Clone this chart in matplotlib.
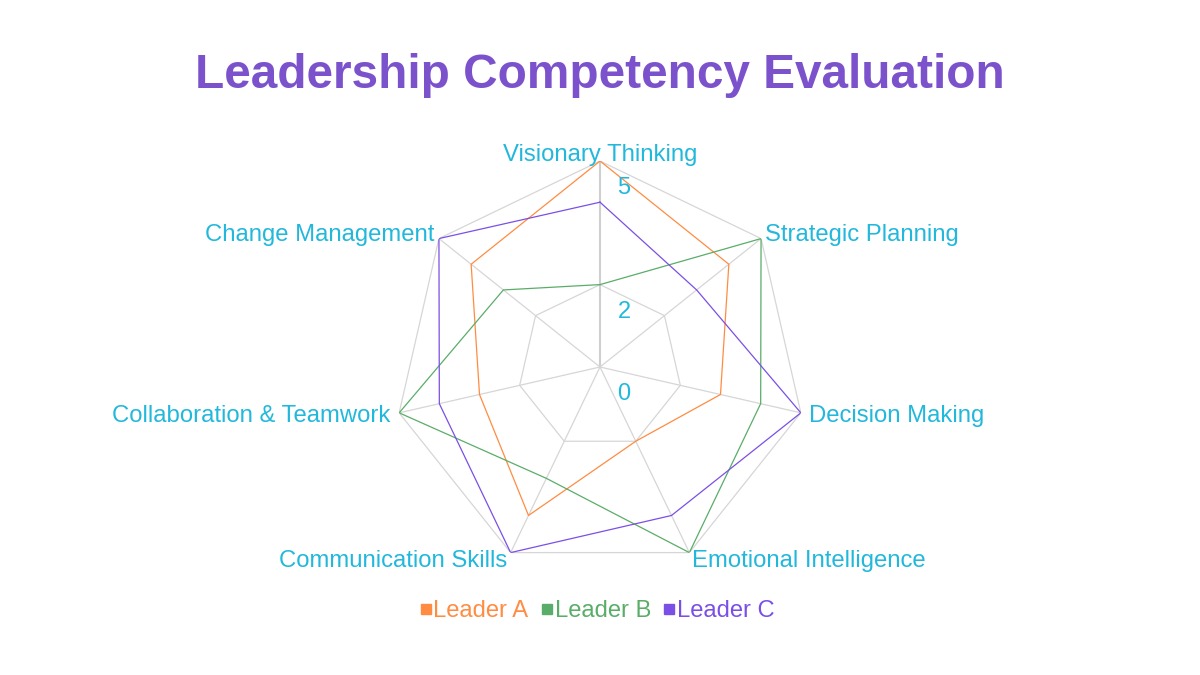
import numpy as np
import matplotlib
matplotlib.use("Agg")
import matplotlib.pyplot as plt
from matplotlib.lines import Line2D

plt.rcParams['font.family'] = ['Liberation Sans', 'DejaVu Sans']

categories = ["Visionary Thinking", "Strategic Planning", "Decision Making",
              "Emotional Intelligence", "Communication Skills",
              "Collaboration & Teamwork", "Change Management"]
leader_a = [5, 4, 3, 2, 4, 3, 4]
leader_b = [2, 5, 4, 5, 3, 5, 3]
leader_c = [4, 3, 5, 4, 5, 4, 5]
series_names = ["Leader A", "Leader B", "Leader C"]
series_values = [leader_a, leader_b, leader_c]
series_colors = ["#ff8c42", "#5aad69", "#7b4fe6"]
ring_values = [2, 5]
tick_values = [0, 2, 5]
r_max = 5

title_color = "#7b52cc"
label_color = "#22b8dc"
grid_color = "#d6d6d6"

W, H, DPI = 1200, 675, 100
fig = plt.figure(figsize=(W / DPI, H / DPI), dpi=DPI)
fig.patch.set_facecolor("white")

cx, cy, R = 600, 367, 206
ax = fig.add_axes([(cx - R) / W, (H - cy - R) / H, 2 * R / W, 2 * R / H],
                  projection="polar")
ax.set_theta_offset(np.pi / 2)
ax.set_theta_direction(-1)
ax.set_ylim(0, r_max)
ax.grid(False)
ax.spines["polar"].set_visible(False)
ax.set_xticks([])
ax.set_yticks([])
ax.patch.set_alpha(0)

n = len(categories)
angles = np.arange(n) * 2 * np.pi / n
closed = np.append(angles, angles[0])

# polygon grid rings
for rv in ring_values:
    ax.plot(closed, [rv] * (n + 1), color=grid_color, lw=0.9, zorder=1)
# spokes
for i, a in enumerate(angles):
    ax.plot([a, a], [0, r_max], color=grid_color if i else "#cfcfcf",
            lw=0.9 if i else 1.5, zorder=1)

# data
for name, vals, col in zip(series_names, series_values, series_colors):
    v = list(vals) + [vals[0]]
    ax.plot(closed, v, color=col, lw=0.9, zorder=3)

# radial tick labels
for tv in tick_values:
    ax.annotate(str(tv), xy=(0, tv), xytext=(24, -27), textcoords="offset pixels",
                ha="center", va="center", fontsize=17, color=label_color, zorder=4)

# category labels
offsets = [(0, 6, "center"), (4, 4, "left"), (8, -3, "left"), (3, -8, "left"),
           (-3, -8, "right"), (-9, -3, "right"), (-5, 4, "right")]
for a, lab, (dx, dy, ha) in zip(angles, categories, offsets):
    ax.annotate(lab, xy=(a, r_max), xytext=(dx, dy), textcoords="offset pixels",
                ha=ha, va="center", fontsize=17.2, color=label_color, zorder=4,
                annotation_clip=False)

fig.text(0.5, 1 - 76 / H, "Leadership Competency Evaluation", ha="center",
         va="center", fontsize=34.4, fontweight="bold", color=title_color)

handles = [Line2D([], [], marker="s", linestyle="none", markersize=6.5,
                  markerfacecolor=c, markeredgecolor=c) for c in series_colors]
leg = fig.legend(handles, series_names, loc="center", bbox_to_anchor=(0.497, 1 - 611 / H),
                 ncol=3, frameon=False, fontsize=17.1, handletextpad=0.0,
                 columnspacing=0.45, handlelength=0.65, borderaxespad=0)
for t, c in zip(leg.get_texts(), series_colors):
    t.set_color(c)

fig.savefig("out.png", dpi=DPI, facecolor="white")
